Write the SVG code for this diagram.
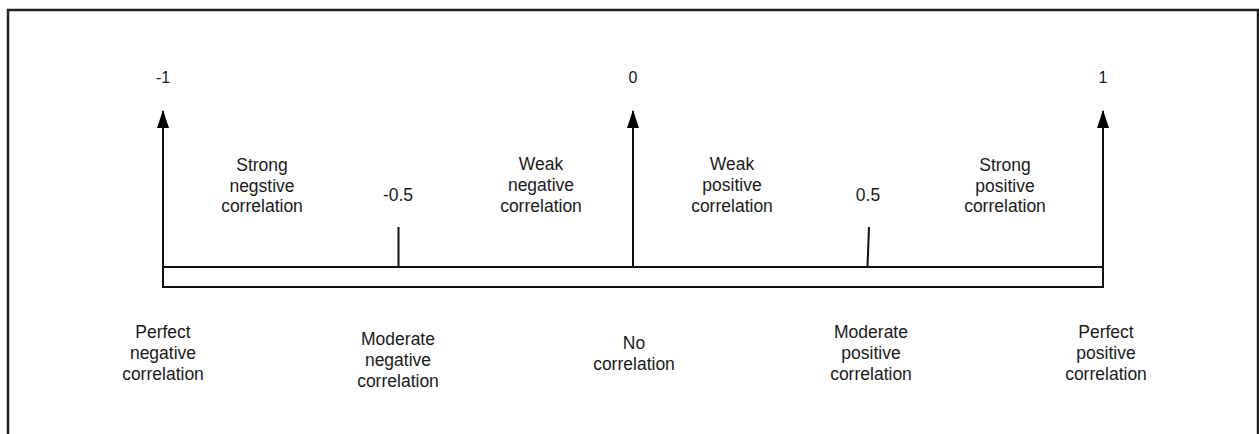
<svg xmlns="http://www.w3.org/2000/svg" width="1259" height="434" viewBox="0 0 1259 434">
  <defs>
    <marker id="arrow" markerWidth="18" markerHeight="12" refX="17" refY="6" orient="auto" markerUnits="userSpaceOnUse" viewBox="0 0 18 12">
      <path d="M0,0 L18,6 L0,12 Z" fill="#000"/>
    </marker>
  </defs>
  <style>
    .ln { stroke: #111; stroke-width: 2; fill: none; }
    .frame { stroke: #222; stroke-width: 2.5; fill: none; }
    .lbl { font-family: "Liberation Sans", Arial, sans-serif; font-size: 17.5px; fill: #1a1a1a; text-anchor: middle; }
    .num { font-family: "Liberation Sans", Arial, sans-serif; font-size: 16px; fill: #1a1a1a; text-anchor: middle; }
  </style>
  <rect width="1259" height="434" fill="#fff"/>
  <path class="frame" d="M8,434 L8,10 L1258,10 L1258,434"/>

  <g id="connectors">
    <rect id="bar" class="ln" x="163" y="267" width="940" height="20"/>
    <line class="ln" x1="163" y1="267" x2="163" y2="111" marker-end="url(#arrow)"/>
    <line class="ln" x1="633" y1="267" x2="633" y2="111" marker-end="url(#arrow)"/>
    <line class="ln" x1="1103" y1="267" x2="1103" y2="111" marker-end="url(#arrow)"/>
    <line class="ln" x1="398.5" y1="227" x2="398.5" y2="267"/>
    <line class="ln" x1="869" y1="227" x2="867.5" y2="267"/>
  </g>

  <g id="n-minus1"><text class="num" x="163" y="83">-1</text></g>
  <g id="n-zero"><text class="num" x="633" y="83">0</text></g>
  <g id="n-plus1"><text class="num" x="1103" y="83">1</text></g>
  <g id="n-minus05"><text class="lbl" x="398" y="201">-0.5</text></g>
  <g id="n-plus05"><text class="lbl" x="868" y="201">0.5</text></g>

  <g id="strong-neg">
    <text class="lbl" x="262" y="171">Strong</text>
    <text class="lbl" x="262" y="191.5">negstive</text>
    <text class="lbl" x="262" y="212">correlation</text>
  </g>
  <g id="weak-neg">
    <text class="lbl" x="541" y="170">Weak</text>
    <text class="lbl" x="541" y="191">negative</text>
    <text class="lbl" x="541" y="212">correlation</text>
  </g>
  <g id="weak-pos">
    <text class="lbl" x="732" y="170">Weak</text>
    <text class="lbl" x="732" y="191">positive</text>
    <text class="lbl" x="732" y="212">correlation</text>
  </g>
  <g id="strong-pos">
    <text class="lbl" x="1005" y="171">Strong</text>
    <text class="lbl" x="1005" y="191.5">positive</text>
    <text class="lbl" x="1005" y="212">correlation</text>
  </g>

  <g id="perfect-neg">
    <text class="lbl" x="163" y="338">Perfect</text>
    <text class="lbl" x="163" y="359">negative</text>
    <text class="lbl" x="163" y="380">correlation</text>
  </g>
  <g id="moderate-neg">
    <text class="lbl" x="398" y="345">Moderate</text>
    <text class="lbl" x="398" y="366">negative</text>
    <text class="lbl" x="398" y="387">correlation</text>
  </g>
  <g id="no-corr">
    <text class="lbl" x="634" y="349">No</text>
    <text class="lbl" x="634" y="369.5">correlation</text>
  </g>
  <g id="moderate-pos">
    <text class="lbl" x="871" y="338">Moderate</text>
    <text class="lbl" x="871" y="359">positive</text>
    <text class="lbl" x="871" y="380">correlation</text>
  </g>
  <g id="perfect-pos">
    <text class="lbl" x="1106" y="338">Perfect</text>
    <text class="lbl" x="1106" y="359">positive</text>
    <text class="lbl" x="1106" y="380">correlation</text>
  </g>
</svg>
